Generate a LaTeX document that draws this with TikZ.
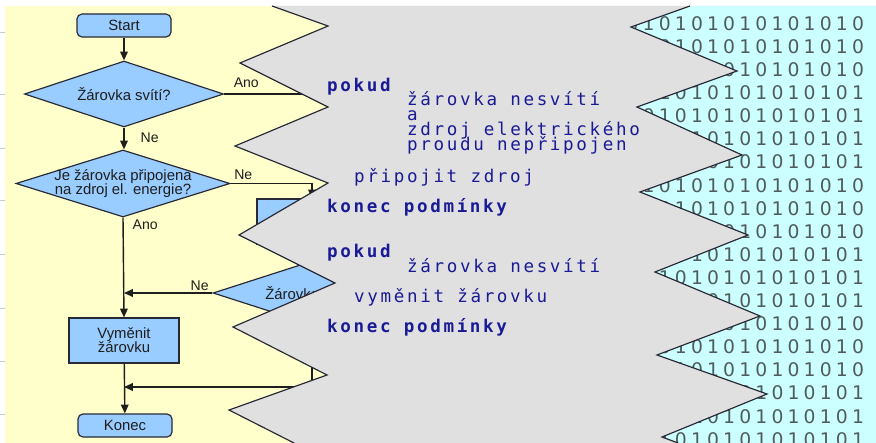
\documentclass[tikz,border=0pt]{standalone}
\usepackage{fontspec}
\setmainfont{Liberation Sans}
\newfontfamily\kodfont{DejaVu Sans Mono}[LetterSpace=15]
\newfontfamily\bitfont{DejaVu Sans}
\usepackage{xcolor}
\usetikzlibrary{shapes.geometric,arrows.meta}

\definecolor{zluta}{RGB}{255,255,204}
\definecolor{seda}{RGB}{224,224,224}
\definecolor{azur}{RGB}{204,255,255}
\definecolor{modra}{RGB}{153,204,255}
\definecolor{kodmodra}{RGB}{26,26,150}
\definecolor{bity}{RGB}{80,92,92}
\definecolor{okraj}{RGB}{40,40,55}
\definecolor{cara}{RGB}{30,30,30}
\definecolor{linka}{RGB}{200,200,215}

\tikzset{
  blok/.style={draw=okraj, fill=modra, line width=1pt, minimum width=33mm,
    minimum height=13.5mm, inner sep=0pt, align=center, text=cara,
    font=\fontsize{12.7}{12}\selectfont},
  krajni/.style={blok, rounded corners=1.5mm, minimum width=28.2mm, minimum height=6.9mm},
  rozhod/.style={diamond, draw=okraj, fill=modra, line width=1pt, inner sep=0pt},
  napis/.style={align=center, text=cara, font=\fontsize{12.7}{12.2}\selectfont},
  sipka/.style={-{Triangle[length=7.5pt,width=6.5pt]}, line width=1.2pt, draw=cara},
  vetev/.style={line width=1.2pt, draw=cara},
  popis/.style={inner sep=0pt, text=cara, font=\fontsize{12}{12}\selectfont},
  kod/.style={anchor=base west, inner sep=0pt, text=kodmodra,
    font=\kodfont\fontsize{15}{15}\selectfont},
  klic/.style={kod, font=\kodfont\bfseries\fontsize{15}{15}\selectfont},
  bit/.style={inner sep=0pt, text=bity, font=\bitfont\fontsize{16}{16}\selectfont},
  zubek/.style={draw=okraj, line width=1pt, line join=miter}
}

\begin{document}
\begin{tikzpicture}[x=0.3mm,y=-0.3mm]
    \useasboundingbox (0,0) rectangle (876,443);
    \fill[white] (0,0) rectangle (876,443);
    % okraj vlevo
    \foreach \y in {32,94,148,200,254,308,361,414}
        \draw[linka,line width=0.6pt] (0,\y) -- (4.5,\y);
    \fill[zluta] (5,6) rectangle (876,443);

    % vyvojovy diagram
    \node[krajni] (start) at (124,25.5) {Start};
    \node[rozhod, minimum width=59.7mm, minimum height=19.8mm,
        label={[napis]center:Žárovka svítí?}] (svit) at (124,94) {};
    \node[rozhod, minimum width=64.2mm, minimum height=20.1mm,
        label={[napis]center:Je žárovka připojena\\na zdroj el. energie?}] (pripoj) at (123,183.5) {};
    \node[blok] (zdroj) at (312,221.5) {Připojit zdroj};
    \node[rozhod, minimum width=59.4mm, minimum height=19.2mm,
        label={[napis]center:Žárovka svítí?}] (svit2) at (312,293) {};
    \node[blok] (vymena) at (124,340.5) {Vyměnit\\žárovku};
    \node[krajni] (konec) at (125,425.5) {Konec};
    \coordinate (anokonec) at (360,94);
    \coordinate (spoj) at (124,387);

    \draw[sipka] (start) -- (svit);
    \draw[vetev] (svit.east)
        node[popis, anchor=base west, xshift=2.7mm, yshift=1.8mm] {Ano} -- (anokonec);
    \draw[sipka] (svit.south)
        node[popis, anchor=base west, xshift=4.8mm, yshift=-4.5mm] {Ne} -- (svit.south |- pripoj.north);
    \draw[sipka] (pripoj.east)
        node[popis, anchor=base west, xshift=0.9mm, yshift=1.2mm] {Ne} -| (zdroj.north);
    \draw[sipka] (pripoj.south)
        node[popis, anchor=base west, xshift=2.7mm, yshift=-3.6mm] {Ano} -- (vymena.north);
    \draw[sipka] (zdroj) -- (svit2);
    \draw[sipka] (svit2.west)
        node[popis, anchor=base east, xshift=-0.9mm, yshift=0.9mm] {Ne} -- (svit2.west -| vymena.north);
    \draw[sipka] (vymena) -- (konec);
    \draw[sipka] (svit2.south) |- (spoj);

    % sedy pruh
    \fill[seda] (272,6) -- (328,26) -- (240,63) -- (328,107) -- (235,146) -- (328,183) --
        (239,235) -- (335,283) -- (233,327) -- (327,375) -- (229,410) -- (294,443) --
        (876,443) -- (876,6) -- cycle;
    \draw[zubek] (272,6) -- (328,26) -- (240,63) -- (328,107) -- (235,146) -- (328,183) --
        (239,235) -- (335,283) -- (233,327) -- (327,375) -- (229,410) -- (294,443);

    % bity
    \fill[azur] (690,6) -- (631,27) -- (737,71) -- (637,107) -- (742,155) -- (640,192) --
        (748,235) -- (655,272) -- (760,316) -- (657,355) -- (767,394) -- (662,437) --
        (678,443) -- (876,443) -- (876,6) -- cycle;
    \begin{scope}
        \clip (690,6) -- (631,27) -- (737,71) -- (637,107) -- (742,155) -- (640,192) --
            (748,235) -- (655,272) -- (760,316) -- (657,355) -- (767,394) -- (662,437) --
            (678,443) -- (876,443) -- (876,6) -- cycle;
        \foreach \r/\d in {0/0,1/0,2/0,3/1,4/1,5/1,6/1,7/0,8/0,9/0,10/1,11/1,12/1,
                13/0,14/0,15/0,16/1,17/1,18/1}
            \foreach \k in {0,...,15} {
                \pgfmathtruncatemacro{\v}{mod(\d+\k,2)}
                \node[bit] (b\r-\k) at (858-16.1*\k, 23.5+23.1*\r) {\v};
            }
    \end{scope}
    \draw[zubek] (690,6) -- (631,27) -- (737,71) -- (637,107) -- (742,155) -- (640,192) --
        (748,235) -- (655,272) -- (760,316) -- (657,355) -- (767,394) -- (662,437) -- (678,443);

    % pseudokod
    \node[klic] (pokud1) at (327,92) {pokud};
    \node[kod] (nesviti1) at (407,106) {žárovka nesvítí};
    \node[kod] (a) at (407,120.5) {a};
    \node[kod] (elektr) at (407,136) {zdroj elektrického};
    \node[kod] (proud) at (407,150.5) {proudu nepřipojen};
    \node[kod] (pripojit) at (354,182.5) {připojit zdroj};
    \node[klic] (konec1) at (327,212) {konec podmínky};
    \node[klic] (pokud2) at (327,257) {pokud};
    \node[kod] (nesviti2) at (407,272.5) {žárovka nesvítí};
    \node[kod] (vymenit) at (354,302) {vyměnit žárovku};
    \node[klic] (konec2) at (327,332.5) {konec podmínky};
\end{tikzpicture}
\end{document}
